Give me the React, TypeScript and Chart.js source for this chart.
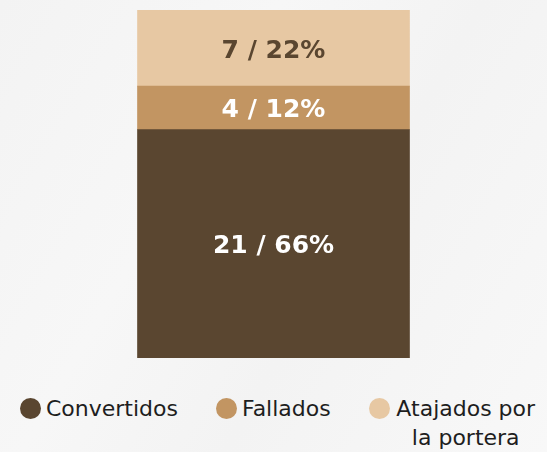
import React, { useEffect, useRef } from "react";
import { Chart, registerables } from "chart.js";

Chart.register(...registerables);

const categories = ["Penales"];
const seriesNames = ["Convertidos", "Fallados", "Atajados por la portera"];
const seriesValues = [21, 4, 7];
const seriesPercents = [66, 12, 22];
const seriesColors = ["#5a4630", "#c29562", "#e7c8a3"];
const labelColors = ["#ffffff", "#ffffff", "#5a4630"];

const FONT = "'DejaVu Sans', sans-serif";

const valueLabelPlugin = {
  id: "valueLabels",
  afterDatasetsDraw(chart: any) {
    const ctx = chart.ctx;
    ctx.save();
    chart.data.datasets.forEach((ds: any, di: number) => {
      const meta = chart.getDatasetMeta(di);
      meta.data.forEach((bar: any) => {
        const { x, y, base } = bar.getProps(["x", "y", "base"], true);
        const cy = (y + base) / 2;
        ctx.font = `bold 25px ${FONT}`;
        ctx.fillStyle = labelColors[di];
        ctx.textAlign = "center";
        ctx.textBaseline = "middle";
        ctx.fillText(`${seriesValues[di]} / ${seriesPercents[di]}%`, x, cy + 3);
      });
    });
    ctx.restore();
  },
};

export default function App() {
  const canvasRef = useRef<HTMLCanvasElement | null>(null);

  useEffect(() => {
    if (!canvasRef.current) return;
    const total = seriesValues.reduce((a, b) => a + b, 0);
    const chart = new Chart(canvasRef.current, {
      type: "bar",
      data: {
        labels: categories,
        datasets: seriesNames.map((name, i) => ({
          label: name,
          data: [seriesValues[i]],
          backgroundColor: seriesColors[i],
          borderWidth: 0,
          barThickness: 272,
        })),
      },
      options: {
        responsive: false,
        animation: false,
        maintainAspectRatio: false,
        layout: { padding: { top: 10, left: 0, right: 0, bottom: 0 } },
        plugins: {
          legend: { display: false },
          tooltip: { enabled: false },
        },
        scales: {
          x: { stacked: true, display: false },
          y: { stacked: true, display: false, min: 0, max: total },
        },
      },
      plugins: [valueLabelPlugin],
    });
    return () => chart.destroy();
  }, []);

  const gaps = [38, 38, 0];

  return (
    <div
      style={{
        position: "fixed",
        left: 0,
        top: 0,
        width: 547,
        height: 452,
        overflow: "hidden",
        background:
          "linear-gradient(120deg, #f3f3f3 0%, #f7f7f7 35%, #f3f3f3 60%, #f8f8f8 100%)",
        fontFamily: FONT,
      }}
    >
      <canvas
        ref={canvasRef}
        width={547}
        height={358}
        style={{ position: "absolute", left: 0, top: 0, width: 547, height: 358 }}
      />
      <div
        style={{
          position: "absolute",
          left: 20,
          top: 394,
          display: "flex",
          alignItems: "flex-start",
          color: "#1e1e1e",
          fontSize: 22,
          lineHeight: "29px",
          whiteSpace: "normal",
        }}
      >
        {seriesNames.map((name, i) => (
          <div
            key={name}
            style={{
              display: "flex",
              alignItems: "flex-start",
              marginRight: gaps[i],
            }}
          >
            <span
              style={{
                display: "inline-block",
                width: 21,
                height: 21,
                borderRadius: "50%",
                background: seriesColors[i],
                marginTop: 4,
                marginRight: 5,
                flex: "0 0 auto",
              }}
            />
            <span style={{ textAlign: "center", maxWidth: 142, display: "inline-block" }}>{name}</span>
          </div>
        ))}
      </div>
    </div>
  );
}
